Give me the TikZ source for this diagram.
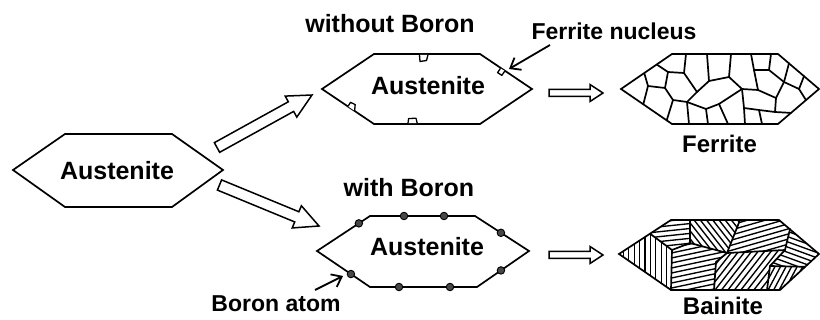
\documentclass[tikz,border=0pt]{standalone}
\usepackage{fontspec}
\setmainfont{Liberation Sans}
\usetikzlibrary{calc,arrows.meta}

\tikzset{
  outline/.style={line width=1.7pt, line join=miter},
  grain/.style={line width=1.7pt, line cap=round, line join=round},
  hatchline/.style={line width=1.35pt},
  hollow/.style={line width=1.5pt, line join=miter, fill=white},
  pointer/.style={line width=1.8pt, -{Straight Barb[length=9pt,width=14pt,line width=1.8pt]}},
  bigtext/.style={font=\fontsize{25}{30}\selectfont\bfseries, inner sep=0pt, anchor=base},
  midtext/.style={font=\fontsize{24}{29}\selectfont\bfseries, inner sep=0pt, anchor=base},
  smalltext/.style={font=\fontsize{23}{28}\selectfont\bfseries, inner sep=0pt, anchor=base},
  atom/.style={circle, draw=black, line width=0.9pt, fill=black!72, inner sep=0pt, minimum size=7.5pt},
  nucleus/.style={line width=1.3pt, fill=white, line join=round},
}

% hollow block arrow: from, to, shaft half-width, head half-width, head length
\newcommand\hollowarrow[5]{%
  \coordinate (hb) at ($(#2)!#5!(#1)$);
  \draw[hollow] ($(#1)!#3!90:(#2)$) -- ($(hb)!#3!90:(#2)$) -- ($(hb)!#4!90:(#2)$)
    -- (#2) -- ($(hb)!#4!-90:(#2)$) -- ($(hb)!#3!-90:(#2)$) -- ($(#1)!#3!-90:(#2)$) -- cycle;
}

% parallel hatching of one bainite packet: polygon, centre, angle, spacing
\newcommand\packet[4]{%
  \begin{scope}
    \clip #1 -- cycle;
    \begin{scope}[shift={#2}, rotate=#3]
      \foreach \k in {-18,...,18}
        \draw[hatchline] (-90,\k*#4) -- (90,\k*#4);
    \end{scope}
  \end{scope}
}

\begin{document}
\begin{tikzpicture}[x=1pt, y=-1pt]
\useasboundingbox[fill=white] (0,0) rectangle (820,320);

% ---------- parent austenite ----------
\coordinate (aL) at (13,170);  \coordinate (aTL) at (65,134); \coordinate (aTR) at (172,134);
\coordinate (aR) at (223,170); \coordinate (aBR) at (172,207); \coordinate (aBL) at (65,207);
\draw[outline] (aL) -- (aTL) -- (aTR) -- (aR) -- (aBR) -- (aBL) -- cycle;
\node[bigtext] (aus0) at (117,180) {Austenite};

% ---------- austenite without boron ----------
\coordinate (tL) at (322,89);  \coordinate (tTL) at (374,54); \coordinate (tTR) at (480,54);
\coordinate (tR) at (532,89);  \coordinate (tBR) at (480,124); \coordinate (tBL) at (374,124);
\draw[outline] (tL) -- (tTL) -- (tTR) -- (tR) -- (tBR) -- (tBL) -- cycle;
\node[bigtext] (aus1) at (428,95) {Austenite};
\node[bigtext] (wo) at (390,33) {without Boron};

% ferrite nuclei on the grain boundary
\draw[nucleus] (419.5,54.8) -- (420,61.5) -- (426.5,60.5) -- (428,54.8);
\draw[nucleus] (500.5,68.3) -- (497.6,72.6) -- (501.8,75.4) -- (504.8,71.1);
\draw[nucleus] (348,106.4) -- (350.5,102.3) -- (355.2,104.6) -- (354.6,110.8);
\draw[nucleus] (408,123.2) -- (408.6,118.6) -- (416,118.2) -- (417.2,123.2);

% ---------- austenite with boron ----------
\coordinate (bL) at (317,251);  \coordinate (bTL) at (370,216); \coordinate (bTR) at (475,216);
\coordinate (bR) at (529,251);  \coordinate (bBR) at (477,287); \coordinate (bBL) at (370,287);
\draw[outline] (bL) -- (bTL) -- (bTR) -- (bR) -- (bBR) -- (bBL) -- cycle;
\node[bigtext] (aus2) at (427,256) {Austenite};
\node[bigtext] (wb) at (409,197) {with Boron};

% boron atoms segregated at the boundary
\node[atom] (b1) at ($(bL)!0.79!(bTL)$) {};
\node[atom] (b2) at (404,216) {};
\node[atom] (b3) at (444,216) {};
\node[atom] (b4) at ($(bTR)!0.48!(bR)$) {};
\node[atom] (b5) at ($(bR)!0.54!(bBR)$) {};
\node[atom] (b6) at (450,287) {};
\node[atom] (b7) at (399,287) {};
\node[atom] (b8) at ($(bL)!0.64!(bBL)$) {};

% ---------- labels with pointers ----------
\node[smalltext] (fn) at (614,40) {Ferrite nucleus};
\coordinate (fnTail) at (550,45);
\coordinate (fnHead) at (509,69);
\draw[pointer] (fnTail) -- (fnHead);

\node[smalltext] (ba) at (276,312) {Boron atom};
\coordinate (baTail) at (315,290);
\coordinate (baHead) at (343,276);
\draw[pointer] (baTail) -- (baHead);

% ---------- block arrows ----------
\coordinate (upTail) at (217,147.5);
\coordinate (upTip) at (312,95);
\hollowarrow{upTail}{upTip}{5.5pt}{12pt}{24pt}
\coordinate (dnTail) at (219.5,185);
\coordinate (dnTip) at (319,226);
\hollowarrow{dnTail}{dnTip}{5.5pt}{12pt}{24pt}

\coordinate (t2fTail) at (549,93);
\coordinate (t2fTip) at (603,93);
\hollowarrow{t2fTail}{t2fTip}{3.5pt}{8.5pt}{13pt}
\coordinate (b2bTail) at (549,255);
\coordinate (b2bTip) at (603,255);
\hollowarrow{b2bTail}{b2bTip}{3.5pt}{8.5pt}{13pt}

% ---------- ferrite (polygonal grains) ----------
\coordinate (fL) at (621,89);  \coordinate (fTL) at (672,54); \coordinate (fTR) at (778,54);
\coordinate (fR) at (819,89);  \coordinate (fBR) at (778,124); \coordinate (fBL) at (672,124);
\foreach \n/\p in {e1/{644.3,73.3}, e2/{656.7,64.5},
    t1/{686,54}, t2/{707,54}, t3/{731,54}, t4/{751,54}, t5/{771,54},
    u1/{789,63.3}, u2/{804,76.2}, w1/{806,100.1}, w2/{791,112.9},
    b1/{689,124}, b2/{708,124}, b3/{728,124}, b4/{745,124}, b5/{762,124},
    l1/{643.3,104.3}, l2/{666.7,120.4},
    J1/{668,72}, J2/{684,73}, J3/{665,88}, J4/{648,86}, J5/{673,100},
    J6/{687,102}, J7/{697,92}, J8/{709,81}, J9/{729,77}, J10/{742,89},
    J11/{754,70}, J12/{769,70}, J13/{758,90}, J14/{784,82}, J15/{799,89},
    J16/{719,104}, J17/{744,108}, J18/{759,110}, J19/{776,98}, J20/{706,109},
    J22/{775,112}}
  \coordinate (f\n) at (\p);
\foreach \a/\b in {e2/J1, J1/J2, J2/t1, J1/J3, e1/J4, J4/J3, J4/l1, J3/J5,
    J5/J6, J5/l2, J6/b1, J2/J7, J6/J7, J7/J8, J8/t2, J8/J9, J9/t3, J9/J10,
    J6/J20, J20/J16, J20/b2, J16/J10, J16/b3, J10/J17, J17/b4, J17/J18,
    J18/b5, J10/J13, J13/J11, J11/t4, J11/J12, J12/t5, J12/J14, J14/u1,
    J14/J15, J15/u2, J15/w1, J14/J19, J13/J19, J19/J22, J22/J18, J22/w2}
  \draw[grain] (f\a) -- (f\b);
\draw[outline] (fL) -- (fTL) -- (fTR) -- (fR) -- (fBR) -- (fBL) -- cycle;
\node[midtext] (fe) at (719.5,153) {Ferrite};

% ---------- bainite (lath packets) ----------
\coordinate (nL) at (619,254);  \coordinate (nTL) at (671,220); \coordinate (nTR) at (779,220);
\coordinate (nR) at (819,254);  \coordinate (nBR) at (780,290); \coordinate (nBL) at (671,290);
\coordinate (pA) at (650,233.7); \coordinate (pB) at (672,250);  \coordinate (pC) at (690,220);
\coordinate (pD) at (690,243);   \coordinate (pE) at (740,220);  \coordinate (pF) at (727,253);
\coordinate (pI) at (716,262);   \coordinate (pJ) at (714,290);  \coordinate (pG) at (790,229);
\coordinate (pH) at (785,250);   \coordinate (pK) at (770,266);  \coordinate (pM) at (767,290);
\coordinate (pN) at (805,266.8);

\packet{(nL) -- (pA) -- (pB) -- (nBL)}{(645,265)}{90}{5.4}
\packet{(pA) -- (nTL) -- (pC) -- (pD) -- (pB)}{(675,235)}{6}{4.9}
\packet{(pC) -- (pE) -- (pF) -- (pD)}{(712,235)}{-52}{4.9}
\packet{(pB) -- (pD) -- (pF) -- (pI) -- (pJ) -- (nBL)}{(695,268)}{12}{4.9}
\packet{(pE) -- (nTR) -- (pG) -- (pH) -- (pF)}{(760,237)}{16}{4.9}
\packet{(pG) -- (nR) -- (pN) -- (pK) -- (pH)}{(795,255)}{-20}{4.9}
\packet{(pF) -- (pH) -- (pK) -- (pM) -- (pJ) -- (pI)}{(742,272)}{52}{5.1}
\packet{(pK) -- (pN) -- (nBR) -- (pM)}{(780,278)}{62}{4.9}

\foreach \a/\b in {A/B, B/D, D/C, D/F, E/F, F/I, I/J, F/H, H/G, H/K, K/N, K/M}
  \draw[grain] (p\a) -- (p\b);
\draw[grain] (pB) -- (nBL);
\draw[outline] (nL) -- (nTL) -- (nTR) -- (nR) -- (nBR) -- (nBL) -- cycle;
\node[midtext] (bn) at (723,315) {Bainite};
\end{tikzpicture}
\end{document}
